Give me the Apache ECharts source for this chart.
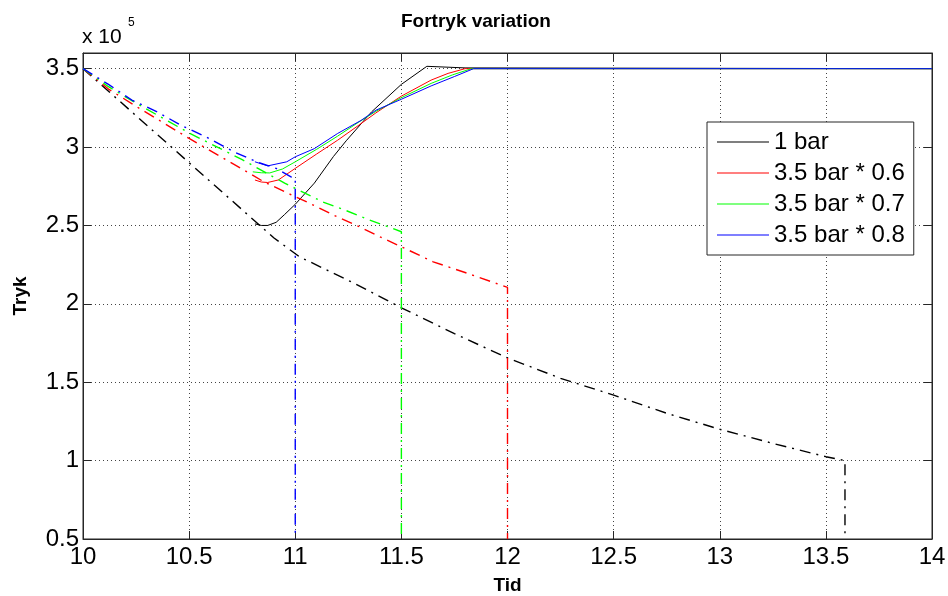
<!DOCTYPE html>
<html>
<head>
<meta charset="utf-8">
<script src="https://cdn.jsdelivr.net/npm/echarts@6/dist/echarts.min.js"></script>
<style>
  html, body { margin: 0; padding: 0; background: #fff; }
  #chart { width: 948px; height: 596px; }
</style>
</head>
<body>
<div id="chart"></div>
<script>
// tick values
var xTicks = [10, 10.5, 11, 11.5, 12, 12.5, 13, 13.5, 14];
var yTicks = [0.5, 1, 1.5, 2, 2.5, 3, 3.5];

// tank pressure (dash-dot), x 10^5
var tank1T = [10, 10.25, 10.5, 10.75, 10.9, 11.02, 11.15, 11.28, 11.5, 11.75, 12, 12.25, 12.5, 12.75, 13, 13.25, 13.5, 13.59, 13.59];
var tank1P = [3.5, 3.2, 2.9, 2.6, 2.42, 2.3, 2.215, 2.13, 1.975, 1.81, 1.655, 1.525, 1.418, 1.302, 1.2, 1.11, 1.025, 1.0, 0.5];

var tank06T = [10, 10.12, 10.25, 10.5, 10.75, 10.85, 10.95, 11.07, 11.18, 11.29, 11.4, 11.5, 11.65, 11.8, 12, 12];
var tank06P = [3.5, 3.37, 3.26, 3.055, 2.86, 2.78, 2.715, 2.64, 2.566, 2.5, 2.427, 2.364, 2.268, 2.2, 2.105, 0.5];

var tank07T = [10, 10.12, 10.25, 10.5, 10.75, 10.85, 10.95, 11.13, 11.23, 11.35, 11.5, 11.5];
var tank07P = [3.5, 3.385, 3.28, 3.09, 2.92, 2.845, 2.77, 2.65, 2.6, 2.535, 2.46, 0.5];

var tank08T = [10, 10.12, 10.23, 10.35, 10.46, 10.58, 10.71, 10.82, 10.91, 10.98, 11, 11];
var tank08P = [3.5, 3.4, 3.3, 3.224, 3.14, 3.065, 2.97, 2.905, 2.864, 2.81, 2.8, 0.5];

// line pressure (solid), x 10^5
var line1T = [10.81, 10.84, 10.87, 10.91, 10.95, 11.0, 11.09, 11.18, 11.24, 11.36, 11.5, 11.62, 11.8, 14];
var line1P = [2.51, 2.5, 2.5, 2.52, 2.57, 2.635, 2.77, 2.94, 3.04, 3.225, 3.4, 3.515, 3.505, 3.5];

var line06T = [10.81, 10.84, 10.87, 10.92, 11.0, 11.1, 11.2, 11.3, 11.38, 11.5, 11.64, 11.72, 11.8, 14];
var line06P = [2.79, 2.777, 2.774, 2.79, 2.864, 2.955, 3.044, 3.14, 3.218, 3.325, 3.427, 3.47, 3.5, 3.5];

var line07T = [10.8, 10.84, 10.88, 10.94, 11.0, 11.1, 11.2, 11.3, 11.38, 11.5, 11.64, 11.74, 11.83, 14];
var line07P = [2.842, 2.836, 2.835, 2.86, 2.906, 2.985, 3.07, 3.16, 3.228, 3.315, 3.406, 3.46, 3.5, 3.5];

var line08T = [10.81, 10.87, 10.96, 11.0, 11.09, 11.2, 11.31, 11.38, 11.5, 11.64, 11.75, 11.84, 14];
var line08P = [2.906, 2.88, 2.906, 2.938, 2.99, 3.087, 3.17, 3.235, 3.305, 3.39, 3.45, 3.5, 3.5];

var names = ['1 bar', '3.5 bar * 0.6', '3.5 bar * 0.7', '3.5 bar * 0.8'];

function pairs(t, p) {
  return t.map(function (v, i) { return [v, p[i]]; });
}

var dashDot = [11, 6, 2, 6];
var font = 'Liberation Sans';

function tankSeries(t, p, color) {
  return {
    type: 'line', name: 'tank', data: pairs(t, p), symbol: 'none', silent: true,
    lineStyle: { color: color, width: 1.4, type: dashDot }
  };
}
function lineSeries(name, t, p, color) {
  return {
    type: 'line', name: name, data: pairs(t, p), symbol: 'none',
    itemStyle: { color: color },
    lineStyle: { color: color, width: 1, type: 'solid' }
  };
}

var chart = echarts.init(document.getElementById('chart'));
var gridLine = { show: true, lineStyle: { color: '#444', width: 1, type: [1, 3] } };
var axisCol = '#262626';

var option = {
  animation: false,
  textStyle: { fontFamily: font },
  grid: {
    left: 83, right: 16, top: 53, bottom: 57,
    outerBoundsMode: 'none', containLabel: false,
    show: true, borderColor: axisCol, borderWidth: 1, backgroundColor: '#fff'
  },
  graphic: [
    { type: 'text', left: 401, top: 12, style: { text: 'Fortryk variation', font: 'bold 19px ' + font, fill: '#000' } },
    { type: 'text', left: 82, top: 27, style: { text: 'x 10', font: '21px ' + font, fill: '#000' } },
    { type: 'text', left: 128, top: 17, style: { text: '5', font: '12px ' + font, fill: '#000' } }
  ],
  legend: {
    data: names,
    orient: 'vertical',
    left: 707, top: 122,
    padding: [8, 9, 8, 10],
    icon: 'rect',
    itemWidth: 52, itemHeight: 1, itemGap: 7,
    borderColor: axisCol, borderWidth: 1, backgroundColor: '#fff',
    textStyle: { fontSize: 24, lineHeight: 24, color: '#000', fontFamily: font }
  },
  xAxis: [{
    type: 'value', min: xTicks[0], max: xTicks[xTicks.length - 1], interval: 0.5,
    name: 'Tid', nameLocation: 'middle', nameGap: 37,
    nameTextStyle: { fontWeight: 'bold', fontSize: 19, color: '#000', fontFamily: font },
    axisLine: { lineStyle: { color: axisCol } },
    axisTick: { inside: true, length: 8, lineStyle: { color: axisCol } },
    axisLabel: { fontSize: 24, color: '#000', margin: 6, fontFamily: font },
    splitLine: gridLine
  }, {
    type: 'value', position: 'top', min: xTicks[0], max: xTicks[xTicks.length - 1], interval: 0.5,
    axisLine: { lineStyle: { color: axisCol } },
    axisTick: { inside: true, length: 8, lineStyle: { color: axisCol } },
    axisLabel: { show: false }, splitLine: { show: false }
  }],
  yAxis: [{
    type: 'value', min: yTicks[0], max: 3.6, interval: 0.5,
    name: 'Tryk', nameLocation: 'middle', nameGap: 53,
    nameTextStyle: { fontWeight: 'bold', fontSize: 19, color: '#000', fontFamily: font },
    axisLine: { show: true, lineStyle: { color: axisCol } },
    axisTick: { show: true, inside: true, length: 8, lineStyle: { color: axisCol } },
    axisLabel: { fontSize: 24, color: '#000', margin: 4, showMaxLabel: false, fontFamily: font },
    splitLine: gridLine
  }, {
    type: 'value', position: 'right', min: yTicks[0], max: 3.6, interval: 0.5,
    axisLine: { show: true, lineStyle: { color: axisCol } },
    axisTick: { show: true, inside: true, length: 8, lineStyle: { color: axisCol } },
    axisLabel: { show: false }, splitLine: { show: false }
  }],
  series: [
    tankSeries(tank1T, tank1P, '#000000'),
    lineSeries(names[0], line1T, line1P, '#000000'),
    tankSeries(tank06T, tank06P, '#ff0000'),
    lineSeries(names[1], line06T, line06P, '#ff0000'),
    tankSeries(tank07T, tank07P, '#00ff00'),
    lineSeries(names[2], line07T, line07P, '#00ff00'),
    tankSeries(tank08T, tank08P, '#0000ff'),
    lineSeries(names[3], line08T, line08P, '#0000ff')
  ]
};
chart.setOption(option);
window.addEventListener('resize', function () {
  chart.resize();
});
</script>
</body>
</html>
